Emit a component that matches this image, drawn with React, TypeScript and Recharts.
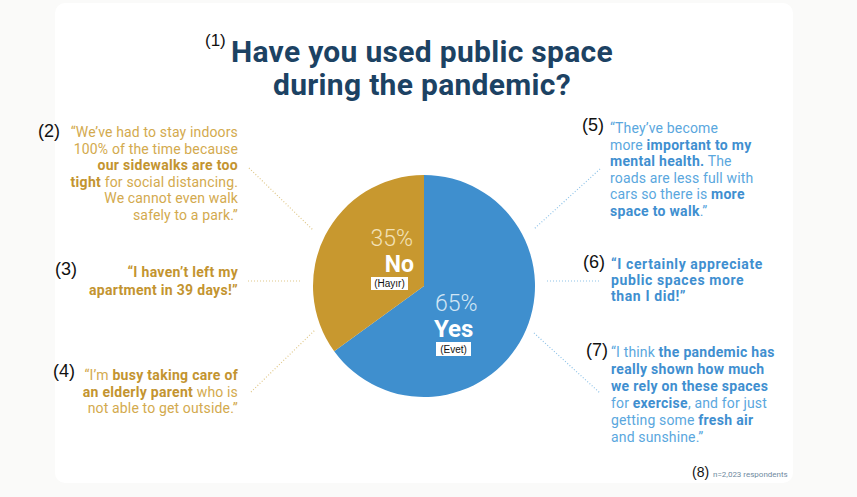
import React from "react";
import { PieChart, Pie, Cell } from "recharts";

const categories = ["Yes", "No"];
const translations = ["(Evet)", "(Hayır)"];
const shares = [65, 35];
const sliceColors = ["#3f8fce", "#c8982f"];

const data = categories.map((c, i) => ({ name: c, value: shares[i], tr: translations[i] }));

const GOLD = "#d3aa4e";
const GOLD_B = "#c39430";
const BLUE = "#5aa7de";
const BLUE_B = "#3f8fd0";

const renderLabel = (props: any) => {
  const { cx, cy, percent, index } = props;
  const pct = `${Math.round(percent * 100)}%`;
  const name = categories[index];
  const tr = translations[index];
  if (index === 1) {
    return (
      <g>
        <text x={cx - 11} y={cy - 40} textAnchor="end" fill="#f3e2b8" fontFamily="Roboto" fontWeight={300} fontSize={23}>{pct}</text>
        <text x={cx - 10} y={cy - 14} textAnchor="end" fill="#ffffff" fontFamily="Roboto" fontWeight={700} fontSize={23}>{name}</text>
        <rect x={cx - 53} y={cy - 9} width={37} height={13} fill="#ffffff" />
        <text x={cx - 34.5} y={cy + 1} textAnchor="middle" fill="#111" fontFamily="Liberation Sans" fontSize={10}>{tr}</text>
      </g>
    );
  }
  return (
    <g>
      <text x={cx + 11} y={cy + 25} textAnchor="start" fill="#d2e6f5" fontFamily="Roboto" fontWeight={300} fontSize={23}>{pct}</text>
      <text x={cx + 10} y={cy + 51} textAnchor="start" fill="#ffffff" fontFamily="Roboto" fontWeight={700} fontSize={24}>{name}</text>
      <rect x={cx + 12} y={cy + 56} width={35} height={14} fill="#ffffff" />
      <text x={cx + 29.5} y={cy + 67} textAnchor="middle" fill="#111" fontFamily="Liberation Sans" fontSize={10}>{tr}</text>
    </g>
  );
};

const quoteBase: React.CSSProperties = {
  position: "absolute",
  fontFamily: "Roboto, 'Noto Sans', sans-serif",
  fontSize: 14,
  letterSpacing: 0.15,
  lineHeight: "16.5px",
  fontWeight: 400,
  margin: 0,
  whiteSpace: "nowrap",
};

const numStyle: React.CSSProperties = {
  position: "absolute",
  fontFamily: "'Liberation Sans', Arial, sans-serif",
  fontSize: 18,
  color: "#111",
};

const GB = ({ children }: { children: React.ReactNode }) => (
  <b style={{ color: GOLD_B, fontWeight: 700, letterSpacing: 0.3 }}>{children}</b>
);
const BB = ({ children }: { children: React.ReactNode }) => (
  <b style={{ color: BLUE_B, fontWeight: 700, letterSpacing: 0.3 }}>{children}</b>
);

export default function App() {
  return (
    <div style={{ position: "absolute", left: 0, top: 0, width: 857, height: 497, background: "#fafaf9", overflow: "hidden" }}>
      <div style={{ position: "absolute", left: 55, top: 3, width: 738, height: 480, background: "#ffffff", borderRadius: 10 }} />

      <svg width={857} height={497} style={{ position: "absolute", left: 0, top: 0 }}>
        <g strokeWidth={1.2} strokeDasharray="1 2" fill="none">
          <line x1={249} y1={168} x2={313} y2={230} stroke="#e0c88a" />
          <line x1={248} y1={281} x2={302} y2={281} stroke="#e0c88a" />
          <line x1={251} y1={392} x2={315} y2={330} stroke="#e0c88a" />
          <line x1={600} y1={169} x2={534} y2={229} stroke="#8fc3e8" />
          <line x1={547} y1={281} x2={600} y2={281} stroke="#8fc3e8" />
          <line x1={534} y1={333} x2={600} y2={393} stroke="#8fc3e8" />
        </g>
      </svg>

      <div style={{ position: "absolute", left: 0, top: 0 }}>
        <PieChart width={857} height={497} margin={{ top: 0, right: 0, bottom: 0, left: 0 }}>
          <Pie
            data={data}
            dataKey="value"
            nameKey="name"
            cx={424}
            cy={286}
            outerRadius={111}
            startAngle={90}
            endAngle={-270}
            stroke="none"
            isAnimationActive={false}
            label={renderLabel}
            labelLine={false}
          >
            {data.map((d, i) => (
              <Cell key={d.name} fill={sliceColors[i]} />
            ))}
          </Pie>
        </PieChart>
      </div>

      {/* Title */}
      <div style={{ position: "absolute", left: 0, top: 35, width: 844, textAlign: "center", fontFamily: "Roboto, sans-serif", fontWeight: 700, fontSize: 30, letterSpacing: 0.3, lineHeight: "33px", color: "#1c4263" }}>
        Have you used public space
        <br />
        during the pandemic?
      </div>
      <div style={{ ...numStyle, left: 205, top: 31, fontSize: 17 }}>(1)</div>

      {/* Left quotes */}
      <div style={{ ...numStyle, left: 38, top: 121 }}>(2)</div>
      <div style={{ ...quoteBase, right: 857 - 238, top: 124, textAlign: "right", color: GOLD }}>
        “We’ve had to stay indoors<br />
        100% of the time because<br />
        <GB>our sidewalks are too</GB><br />
        <GB>tight</GB> for social distancing.<br />
        We cannot even walk<br />
        safely to a park.”
      </div>

      <div style={{ ...numStyle, left: 55, top: 259 }}>(3)</div>
      <div style={{ ...quoteBase, right: 857 - 238, top: 264, textAlign: "right", color: GOLD_B, fontWeight: 700, letterSpacing: 0.3, lineHeight: "17.5px" }}>
        “I haven’t left my<br />
        apartment in 39 days!”
      </div>

      <div style={{ ...numStyle, left: 53, top: 361 }}>(4)</div>
      <div style={{ ...quoteBase, right: 857 - 238, top: 367, textAlign: "right", color: GOLD }}>
        “I’m <GB>busy taking care of</GB><br />
        <GB>an elderly parent</GB> who is<br />
        not able to get outside.”
      </div>

      {/* Right quotes */}
      <div style={{ ...numStyle, left: 582, top: 115 }}>(5)</div>
      <div style={{ ...quoteBase, left: 610, top: 120, color: BLUE }}>
        “They’ve become<br />
        more <BB>important to my</BB><br />
        <BB>mental health.</BB> The<br />
        roads are less full with<br />
        cars so there is <BB>more</BB><br />
        <BB>space to walk</BB>.”
      </div>

      <div style={{ ...numStyle, left: 583, top: 252 }}>(6)</div>
      <div style={{ ...quoteBase, left: 611, top: 256, color: BLUE_B, fontWeight: 700, letterSpacing: 0.6, lineHeight: "16px" }}>
        “I certainly appreciate<br />
        public spaces more<br />
        than I did!”
      </div>

      <div style={{ ...numStyle, left: 586, top: 340 }}>(7)</div>
      <div style={{ ...quoteBase, left: 611, top: 344, color: BLUE, lineHeight: "17px" }}>
        “I think <BB>the pandemic has</BB><br />
        <BB>really shown how much</BB><br />
        <BB>we rely on these spaces</BB><br />
        for <BB>exercise</BB>, and for just<br />
        getting some <BB>fresh air</BB><br />
        and sunshine.”
      </div>

      <div style={{ ...numStyle, left: 692, top: 464, fontSize: 14 }}>(8)</div>
      <div style={{ position: "absolute", left: 713, top: 470, fontFamily: "Roboto, sans-serif", fontSize: 8, color: "#6f8aa0" }}>
        n=2,023 respondents
      </div>
    </div>
  );
}
